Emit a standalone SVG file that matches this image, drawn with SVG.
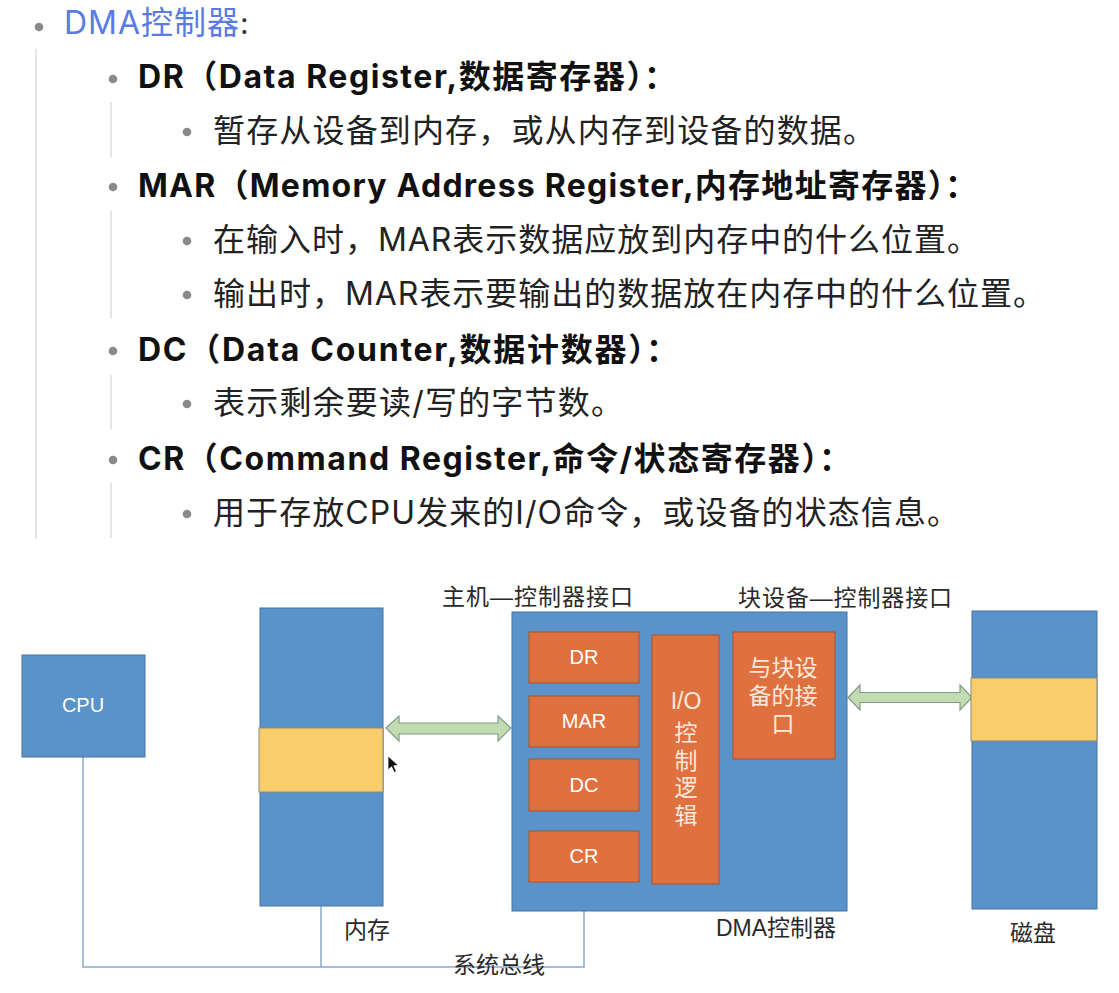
<svg xmlns="http://www.w3.org/2000/svg" width="1119" height="993" viewBox="0 0 1119 993">
<style>
.h{font-family:Inter,"Noto Sans CJK SC",sans-serif;font-size:32px;font-weight:700;fill:#111}
.b{font-family:Inter,"Noto Sans CJK SC",sans-serif;font-size:32px;fill:#222}
.dot{fill:#8a8a8a}
.guide{stroke:#dcdcdc;stroke-width:1.5;fill:none}
.blue{fill:#5A93C9;stroke:#46739f;stroke-width:1}
.org{fill:#DF7140;stroke:#a9552f;stroke-width:1}
.yel{fill:#F8CD6C;stroke:#8d8a6e;stroke-width:1}
.arr{fill:#C3DBB0;stroke:#7f9c88;stroke-width:1.2}
.bus{stroke:#86a9d0;stroke-width:1.5;fill:none}
.wt{font-family:"Liberation Sans","Noto Sans CJK SC",sans-serif;font-size:20px;fill:#fff;text-anchor:middle}
.wc{font-family:"Liberation Sans","Noto Sans CJK SC",sans-serif;font-size:23px;fill:#fde9dc;text-anchor:middle}
.lb{font-family:"Liberation Sans","Noto Sans CJK SC",sans-serif;font-size:23px;fill:#2a2a2a}
</style>

<g id="text-list">
  <line class="guide" x1="36" y1="49" x2="36" y2="539"/>
  <line class="guide" x1="111" y1="102" x2="111" y2="157"/>
  <line class="guide" x1="111" y1="211" x2="111" y2="318"/>
  <line class="guide" x1="111" y1="375" x2="111" y2="429"/>
  <line class="guide" x1="111" y1="483" x2="111" y2="538"/>

  <circle class="dot" cx="39" cy="27" r="4.3"/>
  <text x="64" y="34" font-family="Inter,'Noto Sans CJK SC',sans-serif" font-size="32" fill="#5a7be3" textLength="175" lengthAdjust="spacing">DMA控制器</text>
  <text x="240" y="34" font-family="Inter,'Noto Sans CJK SC',sans-serif" font-size="30" fill="#333">:</text>

  <circle class="dot" cx="113" cy="79" r="4.3"/>
  <text class="h" x="138" y="88" textLength="538" lengthAdjust="spacing">DR（Data Register,数据寄存器）：</text>
  <circle class="dot" cx="187" cy="132" r="4.3"/>
  <text class="b" x="213" y="142" textLength="662" lengthAdjust="spacing">暂存从设备到内存，或从内存到设备的数据。</text>

  <circle class="dot" cx="113" cy="187" r="4.3"/>
  <text class="h" x="138" y="197" textLength="839" lengthAdjust="spacing">MAR（Memory Address Register,内存地址寄存器）：</text>
  <circle class="dot" cx="187" cy="241" r="4.3"/>
  <text class="b" x="213" y="251" textLength="766" lengthAdjust="spacing">在输入时，MAR表示数据应放到内存中的什么位置。</text>
  <circle class="dot" cx="187" cy="295" r="4.3"/>
  <text class="b" x="213" y="305" textLength="832" lengthAdjust="spacing">输出时，MAR表示要输出的数据放在内存中的什么位置。</text>

  <circle class="dot" cx="113" cy="351" r="4.3"/>
  <text class="h" x="138" y="361" textLength="540" lengthAdjust="spacing">DC（Data Counter,数据计数器）：</text>
  <circle class="dot" cx="187" cy="404" r="4.3"/>
  <text class="b" x="213" y="414" textLength="410" lengthAdjust="spacing">表示剩余要读/写的字节数。</text>

  <circle class="dot" cx="113" cy="460" r="4.3"/>
  <text class="h" x="138" y="470" textLength="713" lengthAdjust="spacing">CR（Command Register,命令/状态寄存器）：</text>
  <circle class="dot" cx="187" cy="514" r="4.3"/>
  <text class="b" x="213" y="524" textLength="746" lengthAdjust="spacing">用于存放CPU发来的I/O命令，或设备的状态信息。</text>
</g>

<g id="connectors">
  <polyline class="bus" points="83,757 83,967 584,967 584,911"/>
  <line class="bus" x1="321" y1="906" x2="321" y2="967"/>
  <path id="arrow-host" class="arr" d="M386,728 L399,716 L399,723 L498,723 L498,716 L511,728 L498,741 L498,734 L399,734 L399,741 Z"/>
  <path id="arrow-dev" class="arr" d="M848,697.5 L860,685 L860,692.5 L960,692.5 L960,685 L972,697.5 L960,710 L960,702.5 L860,702.5 L860,710 Z"/>
</g>

<g id="cpu">
  <rect class="blue" x="22" y="655" width="123" height="102"/>
  <text class="wt" x="83" y="712" font-size="21">CPU</text>
</g>

<g id="memory">
  <rect class="blue" x="260" y="608" width="123" height="298"/>
  <rect class="yel" x="259" y="728" width="124" height="64"/>
  <text class="lb" x="344" y="938">内存</text>
</g>

<g id="dma">
  <rect class="blue" x="512" y="612" width="335" height="299"/>
  <g id="dr"><rect class="org" x="529" y="632" width="110" height="51"/><text class="wt" x="584" y="664">DR</text></g>
  <g id="mar"><rect class="org" x="529" y="696" width="110" height="51"/><text class="wt" x="584" y="728">MAR</text></g>
  <g id="dc"><rect class="org" x="529" y="759" width="110" height="52"/><text class="wt" x="584" y="792">DC</text></g>
  <g id="cr"><rect class="org" x="529" y="831" width="110" height="51"/><text class="wt" x="584" y="863">CR</text></g>
  <g id="io-logic">
    <rect class="org" x="652" y="635" width="67" height="249"/>
    <text class="wc" x="686" y="709">I/O<tspan x="686" dy="32">控</tspan><tspan x="686" dy="28">制</tspan><tspan x="686" dy="27">逻</tspan><tspan x="686" dy="28">辑</tspan></text>
  </g>
  <g id="dev-if">
    <rect class="org" x="733" y="632" width="102" height="127"/>
    <text class="wc" x="783" y="676">与块设<tspan x="783" dy="28">备的接</tspan><tspan x="783" dy="28">口</tspan></text>
  </g>
  <text class="lb" x="716" y="936" font-size="22">DMA控制器</text>
</g>

<g id="disk">
  <rect class="blue" x="972" y="611" width="125" height="298"/>
  <rect class="yel" x="971" y="678" width="126" height="63"/>
  <text class="lb" x="1010" y="941">磁盘</text>
</g>

<g id="labels">
  <text class="lb" x="442" y="605" textLength="191" lengthAdjust="spacing">主机—控制器接口</text>
  <text class="lb" x="738" y="606" textLength="214" lengthAdjust="spacing">块设备—控制器接口</text>
  <text class="lb" x="453" y="973">系统总线</text>
</g>

<g id="cursor">
  <path d="M388,756 L388,770 L391.5,766.8 L394.2,772.5 L396.4,771.4 L393.8,765.8 L398.5,765.5 Z" fill="#111" stroke="#fff" stroke-width="0.8"/>
</g>
</svg>
